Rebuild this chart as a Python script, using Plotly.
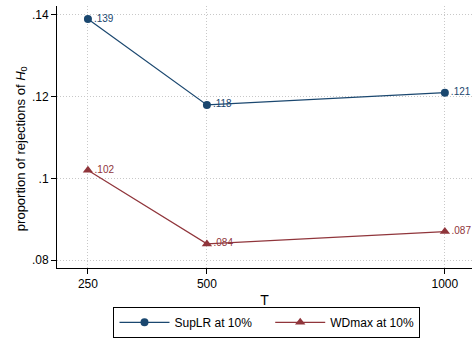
import plotly.graph_objects as go

T = [250, 500, 1000]
suplr = [0.139, 0.118, 0.121]
wdmax = [0.102, 0.084, 0.087]
suplr_labels = [".139", ".118", ".121"]
wdmax_labels = [".102", ".084", ".087"]
y_ticks = [0.08, 0.10, 0.12, 0.14]
y_ticktext = [".08", ".1", ".12", ".14"]
x_ticks = [250, 500, 1000]

blue = "#1a476f"
red = "#90353b"
font = "Liberation Sans, Arial, Helvetica, sans-serif"

fig = go.Figure()
fig.add_trace(go.Scatter(
    x=T, y=suplr, mode="lines+markers+text", name="SupLR at 10%    ",
    line=dict(color=blue, width=1.2), marker=dict(symbol="circle", size=8, color=blue),
    text=suplr_labels, textposition="middle right",
    textfont=dict(color=blue, size=10, family=font)))
fig.add_trace(go.Scatter(
    x=T, y=wdmax, mode="lines+markers+text", name="WDmax at 10%",
    line=dict(color=red, width=1.2), marker=dict(symbol="triangle-up", size=9, color=red),
    text=wdmax_labels, textposition="middle right",
    textfont=dict(color=red, size=10, family=font)))

fig.update_layout(
    width=472, height=338,
    margin=dict(l=57, r=0, t=6, b=67),
    paper_bgcolor="white", plot_bgcolor="white",
    font=dict(family=font, size=12, color="black"),
    showlegend=True,
    legend=dict(orientation="h", x=0.506, y=-0.148, xanchor="center", yanchor="top",
                bordercolor="black", borderwidth=1, font=dict(size=12),
                itemwidth=50, tracegroupgap=0),
    xaxis=dict(range=[185, 1057], tickvals=x_ticks, showline=True, linecolor="black",
               linewidth=1, ticks="outside", ticklen=5, tickcolor="black",
               showgrid=True, gridcolor="#c8c8c8", griddash="1px,2px", gridwidth=1,
               zeroline=False, title=dict(text="T", standoff=4),
               tickfont=dict(size=12)),
    yaxis=dict(range=[0.0781, 0.1422], tickvals=y_ticks, ticktext=y_ticktext,
               showline=True, linecolor="black", linewidth=1, ticks="outside",
               ticklen=5, tickcolor="black", showgrid=True, gridcolor="#c8c8c8",
               griddash="1px,2px", gridwidth=1, zeroline=False,
               tickfont=dict(size=12)),
    annotations=[dict(text="proportion of rejections of <i>H</i><sub>0</sub>",
                      xref="paper", yref="paper", x=-0.087, y=0.457,
                      xanchor="center", yanchor="middle", textangle=-90,
                      showarrow=False, font=dict(size=13))],
)

fig.write_html("out.html")
